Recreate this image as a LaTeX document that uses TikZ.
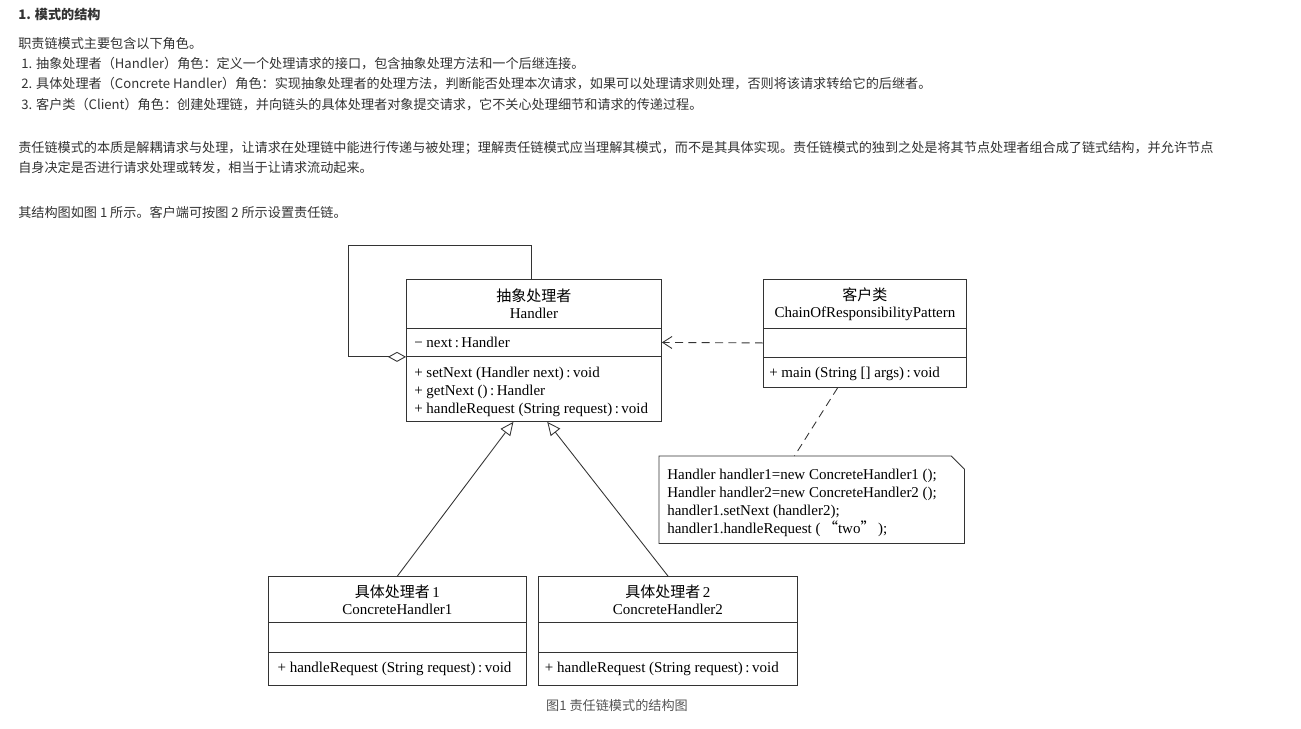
\documentclass[tikz,border=0pt]{standalone}
\usepackage{fontspec}
\setmainfont{Liberation Serif}
\newfontfamily\cjk{Noto Sans CJK SC}
\usetikzlibrary{arrows.meta,positioning}
\definecolor{txtgray}{HTML}{333333}
\definecolor{capgray}{HTML}{555555}
\definecolor{linegray}{HTML}{333333}

\tikzset{
  pagetxt/.style={anchor=west, inner sep=0pt, text=txtgray, font=\cjk\fontsize{9.85}{12}\selectfont},
  part/.style={draw=linegray, line width=0.65pt, anchor=north west, inner sep=0pt, align=center,
    font=\fontsize{11.25}{12.75}\selectfont},
  umltxt/.style={anchor=west, inner sep=0pt, align=left, font=\fontsize{11.25}{13.5}\selectfont},
  inherit/.style={draw=linegray, line width=0.65pt, -{Triangle[open,length=10pt,width=9pt,fill=white]}},
  dep/.style={draw=linegray, line width=0.65pt, dash pattern=on 6pt off 4pt, -{Straight Barb[length=7pt,width=9pt]}},
  notelink/.style={draw=linegray, line width=0.65pt, dash pattern=on 6pt off 4pt}
}

\begin{document}
\begin{tikzpicture}[x=0.75pt,y=-0.75pt]
\fill[white] (0,0) rectangle (1301,728);
\useasboundingbox (0,0) rectangle (1301,728);

% page text
\node[pagetxt, font=\cjk\bfseries\fontsize{9.85}{12}\selectfont] (head) at (18,14) {1. 模式的结构};
\node[pagetxt] (intro) at (18,44) {职责链模式主要包含以下角色。};
\node[pagetxt] (role1) at (21,64) {1. 抽象处理者（Handler）角色：定义一个处理请求的接口，包含抽象处理方法和一个后继连接。};
\node[pagetxt] (role2) at (21,84) {2. 具体处理者（Concrete Handler）角色：实现抽象处理者的处理方法，判断能否处理本次请求，如果可以处理请求则处理，否则将该请求转给它的后继者。};
\node[pagetxt] (role3) at (21,105) {3. 客户类（Client）角色：创建处理链，并向链头的具体处理者对象提交请求，它不关心处理细节和请求的传递过程。};
\node[pagetxt] (essence1) at (18,148) {责任链模式的本质是解耦请求与处理，让请求在处理链中能进行传递与被处理；理解责任链模式应当理解其模式，而不是其具体实现。责任链模式的独到之处是将其节点处理者组合成了链式结构，并允许节点};
\node[pagetxt] (essence2) at (18,168) {自身决定是否进行请求处理或转发，相当于让请求流动起来。};
\node[pagetxt] (refer) at (18,212) {其结构图如图 1 所示。客户端可按图 2 所示设置责任链。};

% Handler
\node[part, minimum width=191.25pt, minimum height=36.75pt] (hndT) at (406,279) {{\cjk 抽象处理者}\\Handler};
\node[part, minimum width=191.25pt, minimum height=21pt] (hndA) at (406,328) {};
\node[part, minimum width=191.25pt, minimum height=48.75pt] (hndM) at (406,356) {};
\node[umltxt] at ([xshift=6pt]hndA.west) {− next\,:\,Handler};
\node[umltxt] at ([xshift=6pt,yshift=-2.5pt]hndM.west) {+ setNext (Handler next)\,:\,void\\+ getNext ()\,:\,Handler\\+ handleRequest (String request)\,:\,void};

% client
\node[part, minimum width=152.25pt, minimum height=36.75pt] (cliT) at (763,279) {{\cjk 客户类}\\ChainOfResponsibilityPattern};
\node[part, minimum width=152.25pt, minimum height=21.75pt] (cliA) at (763,328) {};
\node[part, minimum width=152.25pt, minimum height=22.5pt] (cliM) at (763,357) {};
\node[umltxt] at ([xshift=4.5pt,yshift=-1pt]cliM.west) {+ main (String [] args)\,:\,void};

% note
\node[anchor=north west, inner sep=0pt, minimum width=228.75pt, minimum height=65.25pt] (note) at (659,456) {};
\draw[linegray, line width=0.65pt] (note.north west) -- ([xshift=-10pt]note.north east)
  -- ([yshift=-10pt]note.north east) -- (note.south east) -- (note.south west) -- cycle;
\node[umltxt] at ([xshift=6pt,yshift=-2pt]note.west) {Handler handler1=new ConcreteHandler1 ();\\Handler handler2=new ConcreteHandler2 ();\\handler1.setNext (handler2);\\handler1.handleRequest (\,{\cjk “}two{\cjk ”}\,);};

% concrete handlers
\node[part, minimum width=193.5pt, minimum height=34.5pt] (ch1T) at (268,576) {{\cjk 具体处理者}\,1\\ConcreteHandler1};
\node[part, minimum width=193.5pt, minimum height=22.5pt] (ch1A) at (268,622) {};
\node[part, minimum width=193.5pt, minimum height=24.75pt] (ch1M) at (268,652) {};
\node[umltxt] at ([xshift=7pt]ch1M.west) {+ handleRequest (String request)\,:\,void};
\node[part, minimum width=194.25pt, minimum height=34.5pt] (ch2T) at (538,576) {{\cjk 具体处理者}\,2\\ConcreteHandler2};
\node[part, minimum width=194.25pt, minimum height=22.5pt] (ch2A) at (538,622) {};
\node[part, minimum width=194.25pt, minimum height=24.75pt] (ch2M) at (538,652) {};
\node[umltxt] at ([xshift=5pt]ch2M.west) {+ handleRequest (String request)\,:\,void};

% connectors
\coordinate (loop) at (348,245);
\draw[linegray, line width=0.65pt, {Diamond[open,length=13.5pt,width=7.5pt,fill=white]}-]
  (hndA.south west) -- (hndA.south west -| loop) -- (loop) -| ([xshift=-2pt]hndT.north);
\draw[dep] (cliA.west) -- (hndA.east);
\draw[notelink] ([xshift=-20.5pt]cliM.south) -- ([xshift=-13pt]note.north);
\draw[inherit] (ch1T.north) -- ([xshift=-15.4pt]hndM.south);
\draw[inherit] (ch2T.north) -- ([xshift=10pt]hndM.south);

\node[pagetxt, anchor=center, text=capgray] (caption) at (617,705) {图1 责任链模式的结构图};
\end{tikzpicture}
\end{document}
